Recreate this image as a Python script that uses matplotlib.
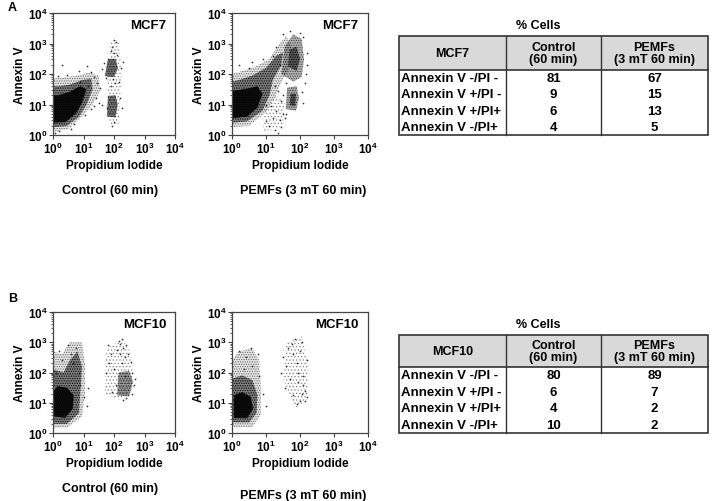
"""
Annexin V / PI flow cytometry panels with % cells tables
"""
import numpy as np
import matplotlib
matplotlib.use('Agg')
from matplotlib import pyplot as plt
from matplotlib.ticker import FixedLocator, LogLocator, NullFormatter
import matplotlib.patches as patches

plt.rcParams['font.family'] = ['Liberation Sans', 'DejaVu Sans']
plt.rcParams['font.weight'] = 'bold'
plt.rcParams['mathtext.fontset'] = 'custom'
plt.rcParams['mathtext.rm'] = 'Liberation Sans:bold'
plt.rcParams['mathtext.bf'] = 'Liberation Sans:bold'
plt.rcParams['mathtext.it'] = 'Liberation Sans:bold'
plt.rcParams['hatch.linewidth'] = 0.6

# Axis decades:
decades = [0, 1, 2, 3, 4]
tick_labels = [r'$10^{%d}$' % d for d in decades]

# Scatter clouds, in decades (log10 PI, log10 Annexin V)
# MCF7 control
a1_halo = [(0.0, 0.1), (0.5, 0.2), (0.95, 0.6), (1.3, 1.0), (1.55, 1.45), (1.5, 1.95),
           (1.2, 2.05), (0.8, 1.95), (0.4, 1.9), (0.0, 1.85)]
a1_body = [(0.0, 0.25), (0.45, 0.3), (0.85, 0.6), (1.1, 1.0), (1.3, 1.5), (1.25, 1.85),
           (0.95, 1.8), (0.55, 1.65), (0.2, 1.6), (0.0, 1.6)]
a1_core = [(0.0, 0.4), (0.4, 0.42), (0.75, 0.7), (0.95, 1.05), (1.1, 1.5), (0.9, 1.6),
           (0.5, 1.4), (0.15, 1.3), (0.0, 1.3)]
a1_spots = [([(1.85, 0.3), (2.15, 0.35), (2.25, 2.0), (2.15, 3.1), (1.9, 3.1), (1.78, 2.0)], 0.0),
            ([(1.7, 1.93), (2.0, 1.9), (2.13, 2.2), (2.05, 2.5), (1.8, 2.5)], 0.55),
            ([(1.77, 0.6), (2.05, 0.58), (2.12, 1.0), (2.05, 1.3), (1.8, 1.28)], 0.55)]
a1_dots = [(0.05, 0.05), (0.2, 0.12), (0.6, 0.2), (0.7, 0.35), (1.05, 0.65), (1.25, 0.85),
           (1.4, 1.2), (1.35, 0.95), (1.5, 1.05), (1.62, 0.98), (1.45, 1.7), (1.35, 1.9),
           (1.55, 1.55), (1.25, 2.05), (0.85, 2.1), (0.45, 1.98), (0.15, 1.95), (1.1, 2.25),
           (1.6, 2.15), (0.3, 2.3), (1.95, 0.3), (2.0, 0.42), (1.9, 1.6), (2.02, 1.72),
           (1.96, 1.85), (2.0, 2.7), (1.94, 2.88), (2.05, 3.05), (1.9, 2.75), (2.1, 2.62),
           (2.22, 2.2), (1.68, 2.35), (1.75, 1.88), (2.2, 1.2), (2.25, 0.88), (1.78, 0.9),
           (2.3, 2.4), (2.15, 1.75), (2.0, 3.1), (1.15, 1.6), (0.9, 1.75)]

# MCF7 PEMFs
a2_halo = [(0.0, 0.25), (0.5, 0.3), (1.0, 0.75), (1.3, 1.3), (1.45, 1.75), (1.65, 2.1),
           (1.75, 2.9), (1.6, 3.25), (1.4, 3.0), (1.1, 2.5), (0.7, 2.25), (0.3, 2.1), (0.0, 2.0)]
a2_body = [(0.0, 0.4), (0.45, 0.45), (0.9, 0.8), (1.1, 1.3), (1.2, 1.8), (1.45, 2.3),
           (1.5, 2.7), (1.3, 2.6), (1.0, 2.2), (0.6, 1.95), (0.2, 1.8), (0.0, 1.75)]
a2_core = [(0.0, 0.55), (0.45, 0.6), (0.75, 0.9), (0.9, 1.35), (0.75, 1.6), (0.35, 1.5),
           (0.0, 1.45)]
a2_spots = [([(1.45, 2.0), (1.8, 1.75), (2.05, 1.9), (2.12, 2.5), (2.05, 3.15), (1.8, 3.3),
              (1.55, 2.9)], 0.3),
            ([(1.65, 2.25), (1.9, 2.1), (2.0, 2.5), (1.9, 2.9), (1.7, 2.8)], 0.5),
            ([(1.58, 0.85), (1.88, 0.8), (1.97, 1.2), (1.9, 1.6), (1.62, 1.55)], 0.35),
            ([(1.7, 0.98), (1.86, 0.95), (1.88, 1.35), (1.72, 1.35)], 0.5),
            ([(0.92, 0.1), (1.5, 0.3), (1.55, 1.1), (1.3, 1.3), (0.95, 0.9)], 0.0)]
a2_dots = [(1.1, 0.3), (1.25, 0.15), (1.4, 0.5), (1.5, 0.7), (1.3, 0.8), (1.2, 0.55),
           (1.45, 0.25), (1.35, 0.05), (2.18, 2.0), (2.22, 2.3), (2.15, 1.7), (1.5, 3.3),
           (1.72, 3.4), (2.0, 3.35), (1.3, 2.9), (1.22, 2.6), (0.6, 2.4), (0.2, 2.3),
           (2.05, 1.4), (2.1, 1.05), (1.6, 1.7), (1.45, 1.1), (1.6, 0.7), (0.9, 2.5),
           (1.4, 2.3), (2.2, 2.7), (2.1, 3.2), (1.5, 1.3), (1.0, 1.0), (1.15, 0.95),
           (1.25, 1.6), (1.35, 1.45), (0.5, 2.2), (1.55, 0.55), (1.0, 0.45)]

# MCF10 control
b1_halo = [(0.0, 0.15), (0.5, 0.2), (0.95, 0.55), (1.05, 1.3), (1.05, 2.3), (0.95, 3.0),
           (0.55, 3.0), (0.3, 2.6), (0.0, 2.7)]
b1_body = [(0.0, 0.3), (0.45, 0.3), (0.85, 0.65), (0.9, 1.4), (0.95, 2.2), (0.8, 2.7),
           (0.55, 2.4), (0.35, 2.0), (0.0, 2.1)]
b1_core = [(0.03, 0.55), (0.4, 0.5), (0.65, 0.8), (0.68, 1.25), (0.45, 1.5), (0.15, 1.55),
           (0.03, 1.4)]
b1_spots = [([(1.7, 1.3), (2.2, 1.1), (2.65, 1.5), (2.55, 2.6), (2.3, 3.1), (1.75, 2.8)], 0.0),
            ([(2.1, 1.25), (2.5, 1.2), (2.62, 1.7), (2.5, 2.05), (2.15, 2.0)], 0.4)]
b1_dots = [(1.8, 2.9), (1.9, 2.6), (1.85, 2.3), (2.0, 2.1), (2.1, 2.75), (2.2, 2.95),
           (2.25, 3.1), (2.3, 2.8), (2.35, 2.5), (2.25, 2.3), (2.45, 2.6), (2.55, 2.35),
           (2.6, 2.0), (2.65, 1.6), (2.6, 1.3), (2.05, 1.6), (1.95, 1.35), (2.3, 1.1),
           (2.4, 1.15), (2.35, 1.9), (2.2, 2.6), (1.75, 2.0), (2.7, 1.8), (2.15, 3.05),
           (2.4, 2.9), (0.1, 2.0), (0.3, 2.4), (0.6, 2.6), (0.75, 2.8), (0.65, 2.3),
           (0.85, 2.0), (0.9, 1.6), (1.0, 1.2), (1.1, 0.9), (0.5, 2.9), (0.2, 2.7), (1.15, 1.5)]

# MCF10 PEMFs
b2_halo = [(0.0, 0.2), (0.6, 0.2), (0.85, 0.6), (0.85, 1.5), (0.8, 2.4), (0.6, 2.8),
           (0.2, 2.7), (0.0, 2.4)]
b2_body = [(0.0, 0.35), (0.5, 0.35), (0.72, 0.65), (0.75, 1.25), (0.6, 1.75), (0.3, 1.9),
           (0.0, 1.8)]
b2_core = [(0.05, 0.5), (0.45, 0.5), (0.62, 0.8), (0.55, 1.2), (0.3, 1.35), (0.05, 1.25)]
b2_spots = [([(1.5, 1.8), (1.85, 0.8), (2.2, 1.1), (2.25, 2.2), (2.05, 3.2), (1.6, 3.0)], 0.0)]
b2_dots = [(1.5, 2.5), (1.6, 2.2), (1.65, 2.8), (1.75, 2.95), (1.8, 2.6), (1.85, 3.1),
           (1.9, 2.3), (1.95, 2.0), (2.0, 2.7), (2.05, 3.0), (2.1, 1.6), (2.05, 1.3),
           (2.0, 1.05), (1.9, 0.95), (2.15, 1.4), (2.2, 1.2), (2.1, 1.9), (1.7, 1.8),
           (1.55, 1.5), (1.8, 1.25), (2.2, 2.4), (1.45, 2.0), (1.95, 1.7), (2.15, 1.05),
           (0.2, 2.7), (0.4, 2.5), (0.6, 2.2), (0.75, 2.6), (0.8, 1.9), (0.35, 2.1),
           (0.9, 1.3), (1.0, 0.9), (0.55, 2.8)]

# Tables (% cells):
row_labels = ['Annexin V -/PI -', 'Annexin V +/PI -', 'Annexin V +/PI+', 'Annexin V -/PI+']
mcf7_control = [81, 9, 6, 4]
mcf7_pemfs = [67, 15, 13, 5]
mcf10_control = [80, 6, 4, 10]
mcf10_pemfs = [89, 7, 2, 2]

W, H = 712, 502
figure = plt.figure(figsize=(W / 100, H / 100), dpi=100)

spineColour = '#444444'


def px_axes(left, top, right, bottom):
    return figure.add_axes([left / W, 1 - bottom / H, (right - left) / W, (bottom - top) / H])


def to_lin(pts):
    arr = np.array(pts, dtype=float)
    return np.power(10, arr[:, 0]), np.power(10, arr[:, 1])


def speckle(ax, poly, hatch, a):
    # dotted texture that reads like sparse events
    x, y = to_lin(poly)
    ax.fill(x, y, facecolor='none', edgecolor=(0, 0, 0, a), hatch=hatch, linewidth=0)


def scatter_panel(ax, halo, body, core, spots, dots, name):
    ax.set_xscale('log')
    ax.set_yscale('log')
    ax.set_xlim(1, 1e4)
    ax.set_ylim(1, 1e4)
    speckle(ax, halo, '.......', 0.5)
    for poly, a in [(halo, 0.1), (body, 0.45), (core, 0.9)]:
        x, y = to_lin(poly)
        ax.fill(x, y, color='black', alpha=a, linewidth=0)
    speckle(ax, body, '.......', 0.6)
    for poly, a in spots:
        if a == 0.0:
            speckle(ax, poly, '.....', 0.4)
            continue
        speckle(ax, poly, '.......', 0.6)
        x, y = to_lin(poly)
        ax.fill(x, y, color='black', alpha=a, linewidth=0)
    x, y = to_lin(dots)
    ax.scatter(x, y, s=1.5, color='black', alpha=0.8, linewidths=0)
    for axis in (ax.xaxis, ax.yaxis):
        axis.set_major_locator(FixedLocator([10.0 ** d for d in decades]))
        axis.set_minor_locator(LogLocator(base=10, subs=np.arange(2, 10)))
        axis.set_minor_formatter(NullFormatter())
    ax.set_xticklabels(tick_labels)
    ax.set_yticklabels(tick_labels)
    ax.tick_params(which='major', direction='out', length=3, width=0.8, labelsize=8.5,
                   pad=1, colors=spineColour, labelcolor='black')
    ax.tick_params(which='minor', direction='out', length=1.5, width=0.6, colors=spineColour)
    for s in ax.spines.values():
        s.set_color(spineColour)
        s.set_linewidth(0.9)
    ax.set_xlabel('Propidium Iodide', fontsize=8.5, fontweight='bold', labelpad=2)
    ax.set_ylabel('Annexin V', fontsize=8.5, fontweight='bold', labelpad=1)
    ax.text(0.93, 0.9, name, transform=ax.transAxes, ha='right', va='center',
            fontsize=9.5, fontweight='bold')


ax_a1 = px_axes(53, 14, 175, 136)
scatter_panel(ax_a1, a1_halo, a1_body, a1_core, a1_spots, a1_dots, 'MCF7')
ax_a2 = px_axes(232, 14, 368, 136)
scatter_panel(ax_a2, a2_halo, a2_body, a2_core, a2_spots, a2_dots, 'MCF7')
ax_b1 = px_axes(53, 313, 175, 434)
scatter_panel(ax_b1, b1_halo, b1_body, b1_core, b1_spots, b1_dots, 'MCF10')
ax_b2 = px_axes(232, 313, 368, 434)
scatter_panel(ax_b2, b2_halo, b2_body, b2_core, b2_spots, b2_dots, 'MCF10')

# Overlay in pixel coordinates for labels and tables:
ov = figure.add_axes([0, 0, 1, 1], zorder=-1)
ov.set_xlim(0, W)
ov.set_ylim(H, 0)
ov.axis('off')

ov.text(8, 8, 'A', fontsize=9, fontweight='bold', va='center')
ov.text(8, 299, 'B', fontsize=9, fontweight='bold', va='center')
ov.text(110, 191, 'Control (60 min)', fontsize=9, fontweight='bold', ha='center', va='center')
ov.text(303, 191, 'PEMFs (3 mT 60 min)', fontsize=9, fontweight='bold', ha='center', va='center')
ov.text(110, 489, 'Control (60 min)', fontsize=9, fontweight='bold', ha='center', va='center')
ov.text(303, 496, 'PEMFs (3 mT 60 min)', fontsize=9, fontweight='bold', ha='center', va='center')

tab_left, tab_mid1, tab_mid2, tab_right = 399, 506, 601, 708


def draw_table(top, head_bottom, bottom, name, control, pemfs):
    ov.text(538, top - 11, '% Cells', fontsize=9, fontweight='bold', ha='center', va='center')
    ov.add_patch(patches.Rectangle((tab_left, top), tab_right - tab_left, head_bottom - top,
                                   facecolor='#d9d9d9', edgecolor='none'))
    ov.add_patch(patches.Rectangle((tab_left, top), tab_right - tab_left, bottom - top,
                                   facecolor='none', edgecolor='#333333', linewidth=1.2))
    ov.plot([tab_left, tab_right], [head_bottom, head_bottom], color='#333333', linewidth=1.2)
    for xm in (tab_mid1, tab_mid2):
        ov.plot([xm, xm], [top, bottom], color='#333333', linewidth=1.0)
    hc = (top + head_bottom) / 2
    ov.text((tab_left + tab_mid1) / 2, hc, name, fontsize=9, fontweight='bold',
            ha='center', va='center')
    ov.text((tab_mid1 + tab_mid2) / 2, hc, 'Control\n(60 min)', fontsize=9,
            fontweight='bold', ha='center', va='center', linespacing=1.05)
    ov.text((tab_mid2 + tab_right) / 2, hc, 'PEMFs\n(3 mT 60 min)', fontsize=9,
            fontweight='bold', ha='center', va='center', linespacing=1.05)
    rh = (bottom - head_bottom) / len(row_labels)
    for i, lab in enumerate(row_labels):
        yc = head_bottom + rh * (i + 0.5)
        ov.text(tab_left + 2, yc, lab, fontsize=9.5, fontweight='bold', ha='left', va='center')
        ov.text((tab_mid1 + tab_mid2) / 2, yc, str(control[i]), fontsize=9.5,
                fontweight='bold', ha='center', va='center')
        ov.text((tab_mid2 + tab_right) / 2, yc, str(pemfs[i]), fontsize=9.5,
                fontweight='bold', ha='center', va='center')


draw_table(37, 71, 136, 'MCF7', mcf7_control, mcf7_pemfs)
draw_table(336, 368, 434, 'MCF10', mcf10_control, mcf10_pemfs)

plt.savefig('out.png', dpi=100)
